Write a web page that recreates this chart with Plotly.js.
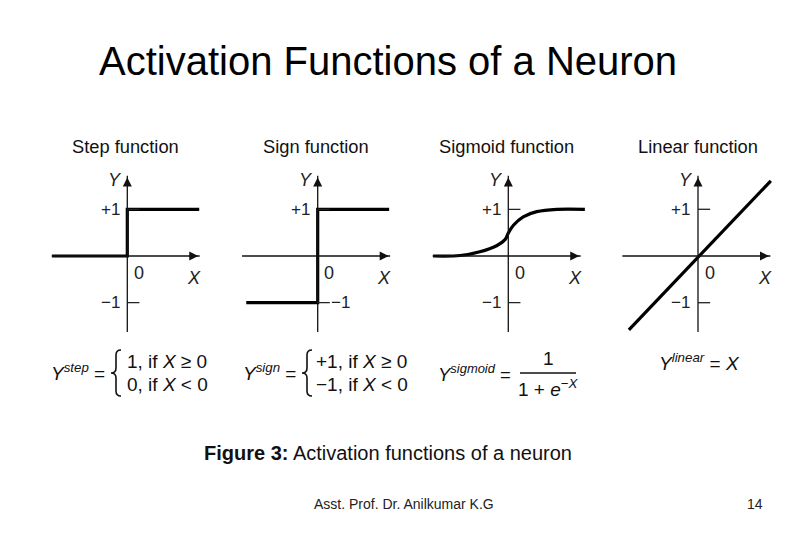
<!DOCTYPE html>
<html><head><meta charset="utf-8">
<script src="https://cdn.plot.ly/plotly-3.0.1.min.js"></script>
<style>html,body{margin:0;padding:0;background:#fff}</style>
</head><body><div id="chart" style="width:810px;height:540px"></div>
<script>
// ---- data (units of the small plots) ----
const panelTitles = ['Step function', 'Sign function', 'Sigmoid function', 'Linear function'];
const stepX = [-1.61, 0, 0, 1.54];
const stepY = [0, 0, 1, 1];
const signX = [-1.53, 0, 0, 1.53];
const signY = [-1, -1, 1, 1];
const sigmoidX = [-1.61, -1.03, -0.61, -0.25, -0.07, 0, 0.11, 0.32, 0.61, 1.04, 1.64];
const sigmoidY = [0, 0.01, 0.09, 0.22, 0.35, 0.49, 0.66, 0.84, 0.95, 1.0, 1.0];
const linearX = [-1.48, 1.56];
const linearY = [-1.58, 1.61];
const tickValues = [1, -1];
const tickLabels = ['+1', '\u22121'];

// ---- layout helpers ----
const W = 810, H = 540, U = 46.7;           // px per unit
const origins = [127.3, 317.7, 508.3, 698]; // y-axis pixel x of each panel
const OY = 256;                              // x-axis pixel y
const halfW = 85, topPx = 160, botPx = 345;
const px = x => x / W, py = y => 1 - y / H;
const FAM = 'Liberation Sans, Arial, sans-serif';

const series = [[stepX, stepY], [signX, signY], [sigmoidX, sigmoidY], [linearX, linearY]];
const traces = [], annotations = [], shapes = [];
const layout = {
  width: W, height: H, margin: {l: 0, r: 0, t: 0, b: 0},
  paper_bgcolor: '#fff', plot_bgcolor: 'rgba(0,0,0,0)', showlegend: false,
  font: {family: FAM, color: '#111'}
};
const txtFont = {family: FAM, size: 17, color: '#222'};

series.forEach((s, i) => {
  const sfx = i ? String(i + 1) : '';
  const xa = 'xaxis' + sfx, ya = 'yaxis' + sfx, xr = 'x' + sfx, yr = 'y' + sfx;
  const o = origins[i];
  layout[xa] = {domain: [px(o - halfW), px(o + halfW)], range: [-halfW / U, halfW / U], visible: false, fixedrange: true};
  layout[ya] = {domain: [py(botPx), py(topPx)], range: [(OY - botPx) / U, (OY - topPx) / U], visible: false, fixedrange: true};
  // axis lines (decoration)
  shapes.push({type: 'line', xref: xr, yref: yr, x0: -1.62, x1: 1.55, y0: 0, y1: 0, line: {color: '#111', width: 1.3}});
  shapes.push({type: 'line', xref: xr, yref: yr, x0: 0, x1: 0, y0: -1.63, y1: 1.72, line: {color: '#111', width: 1.3}});
  // arrowheads
  traces.push({x: [1.52, 0], y: [0, 1.68], xaxis: xr, yaxis: yr, type: 'scatter', mode: 'markers', hoverinfo: 'skip',
    marker: {symbol: ['arrow-right', 'arrow-up'], size: 9, color: '#111', line: {width: 0}}});
  // function curve
  traces.push({x: s[0], y: s[1], xaxis: xr, yaxis: yr, type: 'scatter', mode: 'lines',
    line: {color: '#000', width: 3.2, shape: i === 2 ? 'spline' : 'linear'}, hoverinfo: 'skip'});
  // tick marks and labels
  tickValues.forEach((v, k) => {
    shapes.push({type: 'line', xref: xr, yref: yr, x0: 0, x1: 0.26, y0: v, y1: v, line: {color: '#222', width: 1.3}});
    const rightSide = (i === 1 && v === -1);
    annotations.push({xref: xr, yref: yr, x: rightSide ? 0.25 : -0.12, y: v, text: tickLabels[k],
      xanchor: rightSide ? 'left' : 'right', yanchor: 'middle', showarrow: false, font: txtFont});
  });
  annotations.push({xref: xr, yref: yr, x: 0.25, y: -0.36, text: '0', showarrow: false, font: {family: FAM, size: 18, color: '#222'}});
  annotations.push({xref: xr, yref: yr, x: 1.43, y: -0.47, text: '<i>X</i>', showarrow: false, font: {family: FAM, size: 18, color: '#222'}});
  annotations.push({xref: xr, yref: yr, x: -0.26, y: 1.63, text: '<i>Y</i>', showarrow: false, font: {family: FAM, size: 18, color: '#222'}});
  // panel title
  annotations.push({xref: 'paper', yref: 'paper', x: px([125.5, 316, 507, 697.5][i]), y: py(147),
    text: panelTitles[i], showarrow: false, xanchor: 'center', yanchor: 'middle',
    font: {family: FAM, size: 18.3, color: '#111'}});
});

// ---- text: title, formulas, caption, footer ----
function ptext(text, x, y, size, xanchor, color) {
  annotations.push({xref: 'paper', yref: 'paper', x: px(x), y: py(y), text: text, showarrow: false,
    xanchor: xanchor || 'left', yanchor: 'middle',
    font: {family: FAM, size: size, color: color || '#111'}});
}
ptext('Activation Functions of a Neuron', 388, 61, 40, 'center', '#000');

const fs = 19;
ptext('<i>Y</i><sup><i>step</i></sup> =', 49, 372, fs);
ptext('1, if <i>X</i> \u2265 0', 125, 361, fs);
ptext('0, if <i>X</i> &lt; 0', 125, 384, fs);
ptext('<i>Y</i><sup><i>sign</i></sup> =', 241, 372, fs);
ptext('+1, if <i>X</i> \u2265 0', 314, 361, fs);
ptext('\u22121, if <i>X</i> &lt; 0', 314, 384, fs);
ptext('<i>Y</i><sup><i>sigmoid</i></sup> =', 436, 373, 18.5);
ptext('1', 548, 358, fs, 'center');
ptext('1 + <i>e</i><sup>\u2212<i>X</i></sup>', 548, 388, fs, 'center');
ptext('<i>Y</i><sup><i>linear</i></sup> = <i>X</i>', 657, 362, fs);
ptext('<b>Figure 3:</b> Activation functions of a neuron', 388, 453, 20, 'center');
ptext('Asst. Prof. Dr. Anilkumar K.G', 404, 504, 14, 'center', '#222');
ptext('14', 755, 504, 14, 'center', '#222');

// braces and fraction bar (decorations, paper coords)
function brace(x0, x1, yT, yB) {
  const xm = (x0 + x1) / 2, ym = (yT + yB) / 2, r = 5;
  const P = (x, y) => px(x).toFixed(5) + ',' + py(y).toFixed(5);
  return 'M' + P(x1, yT) + ' Q' + P(xm, yT) + ' ' + P(xm, yT + r) + ' L' + P(xm, ym - r) +
    ' Q' + P(xm, ym) + ' ' + P(x0, ym) + ' Q' + P(xm, ym) + ' ' + P(xm, ym + r) +
    ' L' + P(xm, yB - r) + ' Q' + P(xm, yB) + ' ' + P(x1, yB);
}
shapes.push({type: 'path', xref: 'paper', yref: 'paper', path: brace(111, 121, 350, 396), line: {color: '#111', width: 1.6}});
shapes.push({type: 'path', xref: 'paper', yref: 'paper', path: brace(302, 312, 350, 396), line: {color: '#111', width: 1.6}});
shapes.push({type: 'line', xref: 'paper', yref: 'paper', x0: px(520), x1: px(576), y0: py(373), y1: py(373), line: {color: '#111', width: 1.3}});

layout.annotations = annotations;
layout.shapes = shapes;
Plotly.newPlot('chart', traces, layout, {displayModeBar: false, staticPlot: true});
</script></body></html>
